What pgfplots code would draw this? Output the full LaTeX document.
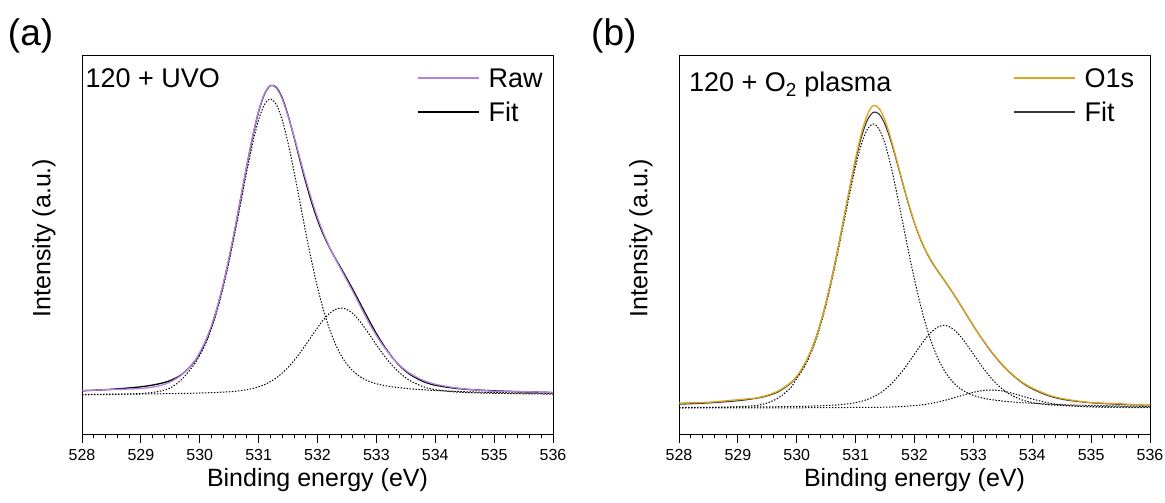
\documentclass[border=0pt]{standalone}
\usepackage{pgfplots}
\pgfplotsset{compat=1.18}
\usepackage{pgfplotstable}
\usepackage{fontspec}
\setmainfont{Liberation Sans}
\definecolor{rawpurple}{RGB}{178,132,226}
\definecolor{gold}{RGB}{218,165,32}
\definecolor{fitgrey}{RGB}{55,55,55}

% Panel (a): x, fit, component 1, component 2, raw
\pgfplotstableread{
x fit c1 c2 raw
528.0 44.2 40.2 40.6 44.5
528.5 45.7 40.5 40.8 45.4
529.0 48.2 41.5 41.0 46.5
529.3 51.1 43.5 41.2 49.0
529.5 54.5 47.0 41.4 53.0
529.7 60.8 56.0 41.6 60.5
529.9 72.5 70.0 41.8 73.0
530.0 81.7 79.7 42.0 82.5
530.1 93.6 91.4 42.2 94.5
530.2 108.8 106.5 42.3 109.5
530.3 127.9 125.3 42.6 128.5
530.4 150.7 147.8 42.9 151.5
530.5 177.1 173.9 43.2 178.0
530.6 206.4 202.7 43.7 207.5
530.7 237.7 233.3 44.4 239.0
530.8 269.1 263.8 45.3 270.0
530.9 298.5 292.0 46.5 299.5
531.0 323.4 315.2 48.2 324.0
531.1 341.0 330.6 50.4 341.5
531.2 349.4 336.0 53.4 349.5
531.3 347.7 330.6 57.1 347.0
531.4 337.1 315.2 61.9 336.0
531.5 319.6 292.0 67.6 319.0
531.6 298.1 263.8 74.3 299.0
531.7 275.2 233.3 81.9 277.0
531.8 252.9 202.7 90.2 255.5
531.9 232.7 173.9 98.8 235.5
532.0 215.1 147.8 107.3 217.5
532.1 200.4 125.3 115.1 202.0
532.2 187.9 106.5 121.4 188.5
532.3 176.9 91.4 125.5 176.5
532.4 166.7 79.7 127.0 165.5
532.5 156.2 70.7 125.5 154.5
532.6 145.5 64.1 121.4 143.5
532.7 134.3 59.2 115.1 132.0
532.8 123.0 55.7 107.3 120.5
532.9 111.9 53.1 98.8 109.5
533.0 101.4 51.2 90.2 99.5
533.1 91.8 49.9 81.9 90.5
533.2 83.1 48.8 74.3 82.5
533.3 75.5 47.9 67.6 75.5
533.4 69.1 47.2 61.9 69.5
533.5 63.7 46.6 57.1 64.5
533.6 59.5 46.1 53.4 60.5
533.8 53.4 45.2 48.2 54.5
534.0 49.8 44.5 45.3 50.8
534.3 47.0 43.8 43.2 47.6
534.6 45.4 43.1 42.3 45.5
535.0 44.2 42.5 41.7 43.8
535.5 43.2 42.0 41.2 43.4
536.0 42.5 41.6 40.9 42.3
}\dataA

% Panel (b): x, fit, component 1, 2, 3, raw (O1s)
\pgfplotstableread{
x fit c1 c2 c3 raw
528.0 30.8 27.2 27.5 27.1 32.0
528.5 32.0 27.5 27.6 27.1 32.8
529.0 34.2 28.3 27.8 27.1 35.3
529.3 36.6 29.5 28.0 27.2 37.0
529.5 39.1 32.0 28.1 27.2 39.8
529.7 43.6 37.5 28.3 27.2 44.5
529.9 51.8 47.5 28.5 27.2 52.5
530.0 58.3 56.5 28.6 27.2 58.8
530.1 67.0 65.1 28.7 27.2 67.5
530.2 78.5 76.4 28.8 27.3 78.8
530.3 93.1 90.8 29.0 27.3 93.3
530.4 111.3 108.8 29.2 27.3 111.3
530.5 133.2 130.4 29.5 27.3 132.8
530.6 158.6 155.4 29.8 27.4 158.0
530.7 186.6 183.1 30.1 27.4 186.0
530.8 216.6 212.5 30.7 27.4 216.5
530.9 246.6 241.7 31.4 27.5 247.5
531.0 274.7 268.8 32.4 27.5 277.0
531.1 298.3 291.0 33.7 27.6 302.0
531.2 315.0 305.8 35.6 27.6 320.5
531.3 322.7 311.0 38.1 27.6 329.5
531.4 320.9 305.8 41.4 27.7 326.5
531.5 310.4 291.0 45.6 27.8 314.5
531.6 293.6 268.8 50.8 28.0 296.0
531.7 273.0 241.7 57.1 28.2 274.5
531.8 251.4 212.5 64.4 28.5 252.5
531.9 230.4 183.1 72.4 28.9 231.5
532.0 211.7 155.4 80.9 29.4 212.5
532.1 195.8 130.4 89.4 30.0 196.5
532.2 182.9 108.8 97.3 30.8 183.5
532.3 172.4 90.8 103.8 31.8 173.0
532.4 163.5 76.4 108.1 33.0 164.0
532.5 155.1 65.1 109.6 34.4 155.5
532.6 146.6 56.5 108.1 36.0 147.0
532.7 137.6 50.1 103.8 37.7 138.0
532.8 128.1 45.4 97.3 39.4 128.5
532.9 118.6 42.1 89.4 41.1 119.0
533.0 109.2 39.6 80.9 42.7 109.5
533.1 100.1 37.8 72.4 43.9 100.5
533.2 91.6 36.5 64.4 44.7 92.0
533.3 83.5 35.4 57.1 45.0 84.0
533.4 76.1 34.6 50.8 44.7 76.5
533.5 69.4 33.9 45.6 43.9 70.0
533.6 63.4 33.3 41.4 42.7 64.0
533.8 53.4 32.4 35.6 39.4 54.0
534.0 46.1 31.7 32.4 36.0 47.0
534.3 38.7 30.8 30.1 31.8 39.5
534.6 34.8 30.2 29.2 29.4 35.5
535.0 32.2 29.6 28.6 28.0 32.5
535.5 30.6 29.0 28.1 27.5 31.2
536.0 29.8 28.6 27.8 27.4 29.5
}\dataB

\pgfplotsset{
  xps/.style={
    scale only axis, width=471pt, height=379pt,
    xmin=528, xmax=536, ymin=0, ymax=379,
    xtick={528,529,...,536}, minor x tick num=4,
    ytick=\empty,
    xtick pos=left,
    tick align=outside,
    major tick length=7.7pt, minor tick length=3.5pt,
    every tick/.style={black, line width=0.9pt},
    axis line style={line width=1pt, black},
    /pgf/number format/assume math mode=true,
    xticklabel style={font=\fontsize{16}{18}\selectfont, anchor=base, yshift=-18pt},
    label style={font=\fontsize{25}{30}\selectfont},
    xlabel={Binding energy (eV)},
    ylabel={Intensity (a.u.)},
    xlabel style={at={(axis description cs:0.5,-0.1346)}, anchor=base},
    ylabel style={at={(axis description cs:-0.0807,0.52)}, anchor=center},
    legend cell align=left,
    reverse legend,
    legend image code/.code={\draw[##1] (0pt,0pt) -- (61pt,0pt); \path (68.3pt,0pt);},
    legend style={draw=none, fill=none, anchor=north west, inner sep=0pt, outer sep=0pt,
      font=\fontsize{27}{32}\selectfont, row sep=10.6pt,
      nodes={inner sep=2pt, text height=19.4pt, text depth=0pt}},
    comp/.style={black, dash pattern=on 1.4pt off 1.6pt, line width=1pt, forget plot, smooth},
  }
}

\begin{document}
\begin{tikzpicture}
\path[use as bounding box] (0pt,0pt) rectangle (1165pt,503pt);

\begin{axis}[xps, at={(82pt,68pt)}, anchor=south west,
  legend style={at={(axis description cs:0.7113,0.9728)}}]
  \addplot[comp] table[x=x, y=c1] {\dataA};
  \addplot[comp] table[x=x, y=c2] {\dataA};
  \addplot[black, line width=1.3pt, smooth] table[x=x, y=fit] {\dataA};
  \addlegendentry{Fit}
  \addplot[rawpurple, line width=1.3pt, smooth] table[x=x, y=raw] {\dataA};
  \addlegendentry{Raw}
  \node[anchor=base west, inner sep=0pt, font=\fontsize{27}{32}\selectfont]
    at (axis description cs:0.0072,0.9174) {120 + UVO};
\end{axis}

\begin{axis}[xps, at={(679pt,68pt)}, anchor=south west,
  legend style={at={(axis description cs:0.709,0.9728)}}]
  \addplot[comp] table[x=x, y=c1] {\dataB};
  \addplot[comp] table[x=x, y=c2] {\dataB};
  \addplot[comp] table[x=x, y=c3] {\dataB};
  \addplot[fitgrey, line width=1.1pt, smooth] table[x=x, y=fit] {\dataB};
  \addlegendentry{Fit}
  \addplot[gold, line width=1.3pt, smooth] table[x=x, y=raw] {\dataB};
  \addlegendentry{O1s}
  \node[anchor=base west, inner sep=0pt, font=\fontsize{27}{32}\selectfont]
    at (axis description cs:0.0208,0.9058) {120 + O\textsubscript{2} plasma};
\end{axis}

\node[anchor=base west, inner sep=0pt, font=\fontsize{37}{44}\selectfont] at (7.8pt,457pt) {(a)};
\node[anchor=base west, inner sep=0pt, font=\fontsize{37}{44}\selectfont] at (591pt,457pt) {(b)};
\end{tikzpicture}
\end{document}
